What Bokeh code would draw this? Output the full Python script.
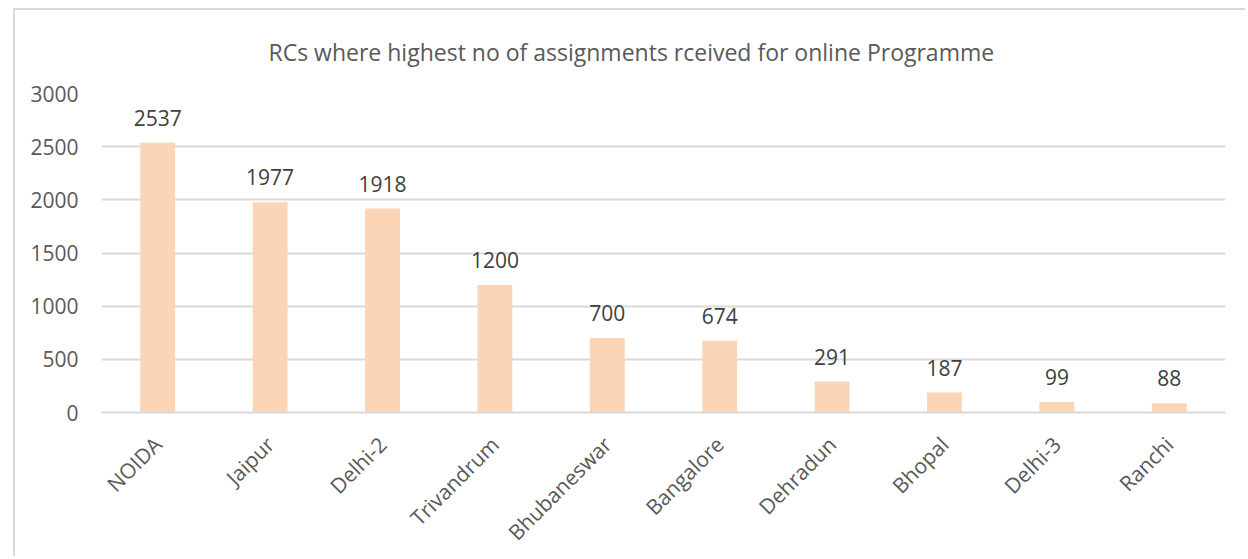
from math import pi
from bokeh.plotting import figure
from bokeh.models import ColumnDataSource, SingleIntervalTicker, FactorRange, Range1d
from bokeh.core.properties import value
from bokeh.embed import file_html
from bokeh.resources import INLINE

categories = ["NOIDA", "Jaipur", "Delhi-2", "Trivandrum", "Bhubaneswar",
              "Bangalore", "Dehradun", "Bhopal", "Delhi-3", "Ranchi"]
assignments = [2537, 1977, 1918, 1200, 700, 674, 291, 187, 99, 88]
title_text = "RCs where highest no of assignments rceived for online Programme"

FONT = "Open Sans"
GREY = "#595959"
GRID = "#d9d9d9"
BAR = "#FBD5B5"

src = ColumnDataSource(dict(cat=categories, val=assignments,
                            lab=[str(v) for v in assignments]))

p = figure(x_range=FactorRange(*categories, range_padding=0),
           y_range=Range1d(0, 3000),
           width=1232, height=548,
           output_backend="svg", toolbar_location=None,
           min_border_left=86, min_border_right=22,
           min_border_top=83, min_border_bottom=144)
p.margin = (8, 0, 0, 13)
p.styles = {"border-top": "2px solid #d9d9d9", "border-left": "2px solid #d9d9d9"}
p.outline_line_color = None
p.background_fill_color = "white"
p.border_fill_color = "white"

p.title.text = title_text
p.title.align = "left"
p.title.offset = 167
p.title.standoff = 47
p.title.vertical_align = "top"
p.title.text_font = FONT
p.title.text_font_size = "23px"
p.title.text_font_style = "normal"
p.title.text_color = GREY

p.vbar(x="cat", top="val", width=0.31, source=src, fill_color=BAR, line_color=None)

p.text(x="cat", y="val", text="lab", source=src, y_offset=-25,
       text_align="center", text_baseline="alphabetic",
       text_font=value(FONT), text_font_size="21px", text_color="#404040")

p.yaxis.ticker = SingleIntervalTicker(interval=500)
p.yaxis.axis_line_color = None
p.yaxis.major_tick_line_color = None
p.yaxis.minor_tick_line_color = None
p.yaxis.major_label_standoff = 17
p.yaxis.major_label_text_font = FONT
p.yaxis.major_label_text_font_size = "21px"
p.yaxis.major_label_text_color = GREY

p.xaxis.axis_line_color = GRID
p.xaxis.axis_line_width = 2
p.xaxis.major_tick_line_color = None
p.xaxis.minor_tick_line_color = None
p.xaxis.major_label_orientation = pi / 4
p.xaxis.major_label_standoff = 22
p.xaxis.major_label_text_font = FONT
p.xaxis.major_label_text_font_size = "21px"
p.xaxis.major_label_text_color = GREY

p.xgrid.grid_line_color = None
p.ygrid.grid_line_color = GRID
p.ygrid.grid_line_width = 2

open("out.html", "w").write(file_html(p, INLINE))
